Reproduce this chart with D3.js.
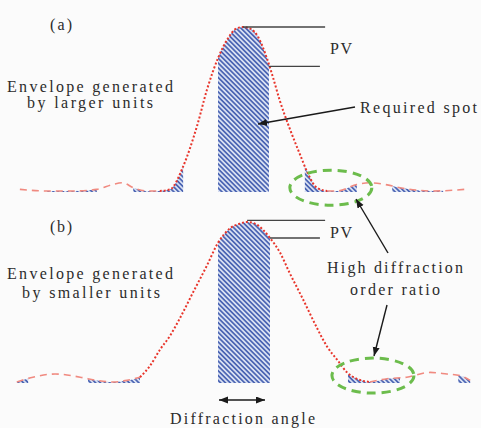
<!DOCTYPE html>
<html>
<head>
<meta charset="utf-8">
<script src="https://cdn.jsdelivr.net/npm/d3@7"></script>
<style>
  body { margin: 0; background: #fbfbfb; }
  svg text { font-family: "Liberation Serif", "DejaVu Serif", "Times New Roman", serif; fill: #2b2b2b; }
</style>
</head>
<body>
<svg id="chart" width="481" height="428"></svg>
<script>
// envelope samples, x in bar widths from centre, y = relative intensity
const envA_left  = [[-4.31,0.01],[-3.79,0],[-3.25,0],[-2.83,0.01],[-2.52,0.04],[-2.33,0.05],[-2.13,0.02],[-1.85,0],[-1.62,0]];
const envA_main  = [[-1.62,0],[-1.42,0.01],[-1.17,0.15],[-0.90,0.40],[-0.71,0.62],[-0.50,0.81],[-0.31,0.93],[-0.15,0.99],[-0.02,1.00],
                    [0.12,0.99],[0.27,0.94],[0.44,0.81],[0.56,0.69],[0.69,0.55],[0.88,0.38],[1.08,0.22],[1.21,0.12],[1.40,0.02],[1.60,0]];
const envA_right = [[1.60,0],[1.79,0],[2.17,0.04],[2.42,0.05],[2.71,0.04],[3.00,0.02],[3.63,0],[4.25,0.01]];
const barsA = [[-3.79,-2.83],[-2.13,-1.17],[-0.50,0.48],[1.17,2.17],[2.85,3.83]];

const envB_left  = [[-4.37,0],[-4.06,0.03],[-3.63,0.05],[-3.15,0.03],[-2.83,0.01],[-2.52,0],[-2.25,0.01],[-2.00,0.03]];
const envB_main  = [[-2.00,0.03],[-1.81,0.10],[-1.62,0.20],[-1.42,0.29],[-1.23,0.40],[-0.98,0.56],[-0.71,0.73],[-0.50,0.87],[-0.27,0.96],
                    [-0.08,0.99],[0.06,1.00],[0.21,0.99],[0.37,0.95],[0.50,0.90],[0.69,0.81],[0.88,0.68],[1.13,0.52],[1.40,0.34],
                    [1.60,0.22],[1.79,0.14],[1.98,0.06],[2.17,0.02],[2.42,0]];
const envB_right = [[2.42,0],[2.75,0.02],[3.13,0.03],[3.58,0.06],[3.90,0.05],[4.15,0.04],[4.35,0.01]];
const barsB = [[-4.40,-4.15],[-3.00,-2.00],[-0.50,0.50],[2.00,3.00],[4.12,4.38]];

// PV marker lines: [x1, x2, level]
const pvA = [[-0.02,1.56,1.00],[0.48,1.46,0.76]];
const pvB = [[0.06,1.56,1.01],[0.50,1.46,0.90]];
// highlighted side orders: [x, y]
const ringA = [1.67, 0.02];
const ringB = [2.48, 0.04];

const svg = d3.select("#chart");
const x = d3.scaleLinear().domain([-4.4, 4.4]).range([15.2, 472.8]);
const yA = d3.scaleLinear().domain([0, 1]).range([191, 27]);
const yB = d3.scaleLinear().domain([0, 1]).range([382, 222]);

const defs = svg.append("defs");
const pat = defs.append("pattern")
    .attr("id", "hatch")
    .attr("patternUnits", "userSpaceOnUse")
    .attr("width", 3.4).attr("height", 3.4)
    .attr("patternTransform", "rotate(-45)");
pat.append("rect").attr("width", 3.4).attr("height", 3.4).attr("fill", "#dde4f4");
pat.append("line").attr("x1", 0.9).attr("x2", 0.9).attr("y1", 0).attr("y2", 3.4)
    .attr("stroke", "#4862b2").attr("stroke-width", 1.7);

defs.append("marker")
    .attr("id", "head")
    .attr("markerUnits", "userSpaceOnUse")
    .attr("markerWidth", 10).attr("markerHeight", 8)
    .attr("refX", 9).attr("refY", 3.5)
    .attr("orient", "auto-start-reverse")
  .append("path").attr("d", "M0,0 L9,3.5 L0,7 Z").attr("fill", "#1a1a1a");

function drawPanel(id, y, left, main, right, bars, pv, ring) {
  const g = svg.append("g");
  const all = left.concat(main.slice(1), right.slice(1));

  const clip = defs.append("clipPath").attr("id", "clip" + id);
  clip.selectAll("rect").data(bars).enter().append("rect")
      .attr("x", d => x(d[0])).attr("width", d => x(d[1]) - x(d[0]))
      .attr("y", 0).attr("height", 428);

  const area = d3.area()
      .x(d => x(d[0])).y0(y(-0.006)).y1(d => y(d[1]))
      .curve(d3.curveMonotoneX);
  g.append("path").datum(all)
      .attr("d", area)
      .attr("fill", "url(#hatch)")
      .attr("clip-path", `url(#clip${id})`);

  const line = d3.line().x(d => x(d[0])).y(d => y(d[1])).curve(d3.curveMonotoneX);
  [left, right].forEach(seg => {
    g.append("path").datum(seg).attr("d", line)
        .attr("fill", "none").attr("stroke", "#f08a80")
        .attr("stroke-width", 1.6).attr("stroke-dasharray", "7,5");
  });
  g.append("path").datum(main).attr("d", line)
      .attr("fill", "none").attr("stroke", "#e8352b")
      .attr("stroke-width", 2).attr("stroke-dasharray", "2,2");

  g.selectAll(".pv").data(pv).enter().append("line")
      .attr("x1", d => x(d[0])).attr("x2", d => x(d[1]))
      .attr("y1", d => y(d[2])).attr("y2", d => y(d[2]))
      .attr("stroke", "#444").attr("stroke-width", 1.4);

  g.append("ellipse")
      .attr("cx", x(ring[0])).attr("cy", y(ring[1]))
      .attr("rx", 41).attr("ry", 17.5)
      .attr("fill", "none").attr("stroke", "#6cbc4c")
      .attr("stroke-width", 3).attr("stroke-dasharray", "9,6");
}

drawPanel("A", yA, envA_left, envA_main, envA_right, barsA, pvA, ringA);
drawPanel("B", yB, envB_left, envB_main, envB_right, barsB, pvB, ringB);

// arrows
const arrows = [
  [[355,107],[258,124], false],
  [[388,253],[356,199], false],
  [[387,305],[374,356], false],
  [[219,400],[265,400], true]
];
arrows.forEach(a => {
  const l = svg.append("line")
      .attr("x1", a[0][0]).attr("y1", a[0][1])
      .attr("x2", a[1][0]).attr("y2", a[1][1])
      .attr("stroke", "#1a1a1a").attr("stroke-width", 1.4)
      .attr("marker-end", "url(#head)");
  if (a[2]) l.attr("marker-start", "url(#head)");
});

// labels: text, x, baseline, width, size
const labels = [
  ["(a)", 50, 30, 22, 16],
  ["Envelope generated", 7, 92, 166, 16],
  ["by larger units", 27, 108, 126, 16],
  ["PV", 330, 54, 22, 16],
  ["Required spot", 360, 113, 117, 16],
  ["(b)", 50, 232, 22, 16],
  ["Envelope generated", 7, 279, 166, 16],
  ["by smaller units", 22, 298, 138, 16],
  ["PV", 330, 238, 22, 16],
  ["High diffraction", 327, 273, 136, 16],
  ["order ratio", 350, 295, 90, 16],
  ["Diffraction angle", 170, 424, 145, 16]
];
svg.selectAll(".lbl").data(labels).enter().append("text")
    .attr("class", "lbl")
    .attr("x", d => d[1]).attr("y", d => d[2])
    .attr("font-family", "'Liberation Serif', 'DejaVu Serif', serif")
    .attr("textLength", d => d[3])
    .attr("lengthAdjust", "spacing")
    .style("font-size", d => d[4] + "px")
    .text(d => d[0]);
</script>
</body>
</html>
